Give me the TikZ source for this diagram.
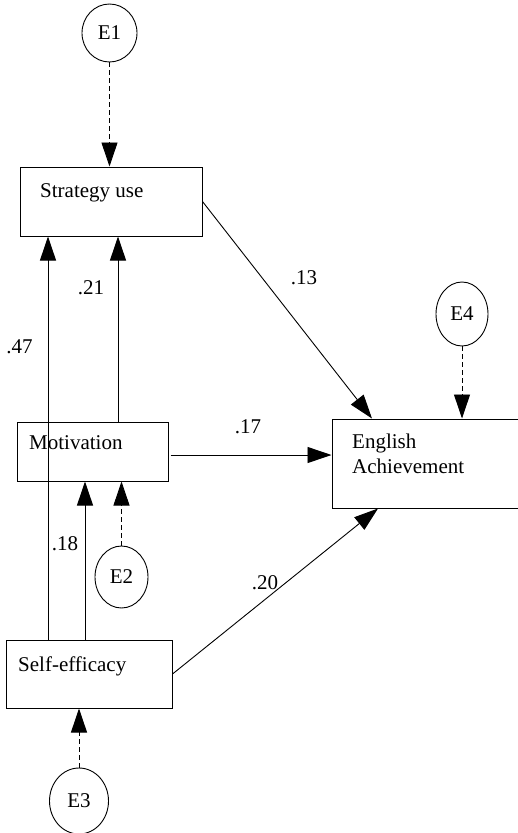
\documentclass[tikz,border=0pt]{standalone}
\usepackage{fontspec}
\setmainfont{Liberation Serif}
\usetikzlibrary{arrows.meta,shapes.geometric}
\begin{document}
\begin{tikzpicture}[x=1pt,y=-1pt,
  every node/.style={font=\fontsize{21}{25}\selectfont},
  box/.style={draw,line width=1pt,rectangle,inner sep=0pt},
  err/.style={draw,line width=0.9pt,ellipse,inner sep=0pt},
  txt/.style={inner sep=0pt,anchor=base west},
  lbl/.style={inner sep=0pt},
  arr/.style={line width=0.9pt,-{Triangle[length=24pt,width=16pt]}},
  darr/.style={arr,dash pattern=on 5pt off 3pt}]
\useasboundingbox (0,0) rectangle (518,833);
\clip (0,0) rectangle (518,833);
% boxes
\node[box,minimum width=182,minimum height=69] (su) at (111,201.5) {};
\node[txt] (sut) at (40,197) {Strategy use};
\node[box,minimum width=151,minimum height=59] (mo) at (92.5,451.5) {};
\node[txt] (mot) at (29,449) {Motivation};
\node[box,minimum width=166,minimum height=68] (se) at (89,674) {};
\node[txt] (set) at (18,671) {Self-efficacy};
\node[box,minimum width=192,minimum height=89] (en) at (428,463.5) {};
\node[txt] (ent1) at (352,448) {English};
\node[txt] (ent2) at (352,473) {Achievement};
% error terms
\node[err,minimum width=55,minimum height=58] (e1) at (109.5,33) {E1};
\node[err,minimum width=52,minimum height=64] (e4) at (462,314) {E4};
\node[err,minimum width=53,minimum height=62] (e2) at (121.5,577) {E2};
\node[err,minimum width=59,minimum height=66] (e3) at (79,801) {E3};
% helper coordinates
\coordinate (xa) at (48,0);
\coordinate (xb) at (118,0);
\coordinate (xc) at (85,0);
\coordinate (ym) at (0,455);
\coordinate (xd) at (372,0);
\coordinate (xe) at (378,0);
% paths
\draw[arr] (se.north -| xa) -- (su.south -| xa);
\draw[arr] (mo.north -| xb) -- (su.south -| xb);
\draw[arr] (se.north -| xc) -- (mo.south -| xc);
\draw[arr] ([xshift=2pt]mo.east |- ym) -- (en.west |- ym);
\draw[arr] (su.east) -- (en.north -| xd);
\draw[arr] (se.east) -- (en.south -| xe);
\draw[darr] (e1.south) -- (su.north -| e1.south);
\draw[darr] (e4.south) -- (en.north -| e4.south);
\draw[darr] (e2.north) -- (mo.south -| e2.north);
\draw[darr] (e3.north) -- (se.south -| e3.north);
% coefficients
\node[lbl] (l13) at (304,278) {.13};
\node[lbl] (l21) at (91,288) {.21};
\node[lbl] (l47) at (19.5,347) {.47};
\node[lbl] (l17) at (248,427) {.17};
\node[lbl] (l18) at (65,544) {.18};
\node[lbl] (l20) at (265,583) {.20};
\end{tikzpicture}
\end{document}
